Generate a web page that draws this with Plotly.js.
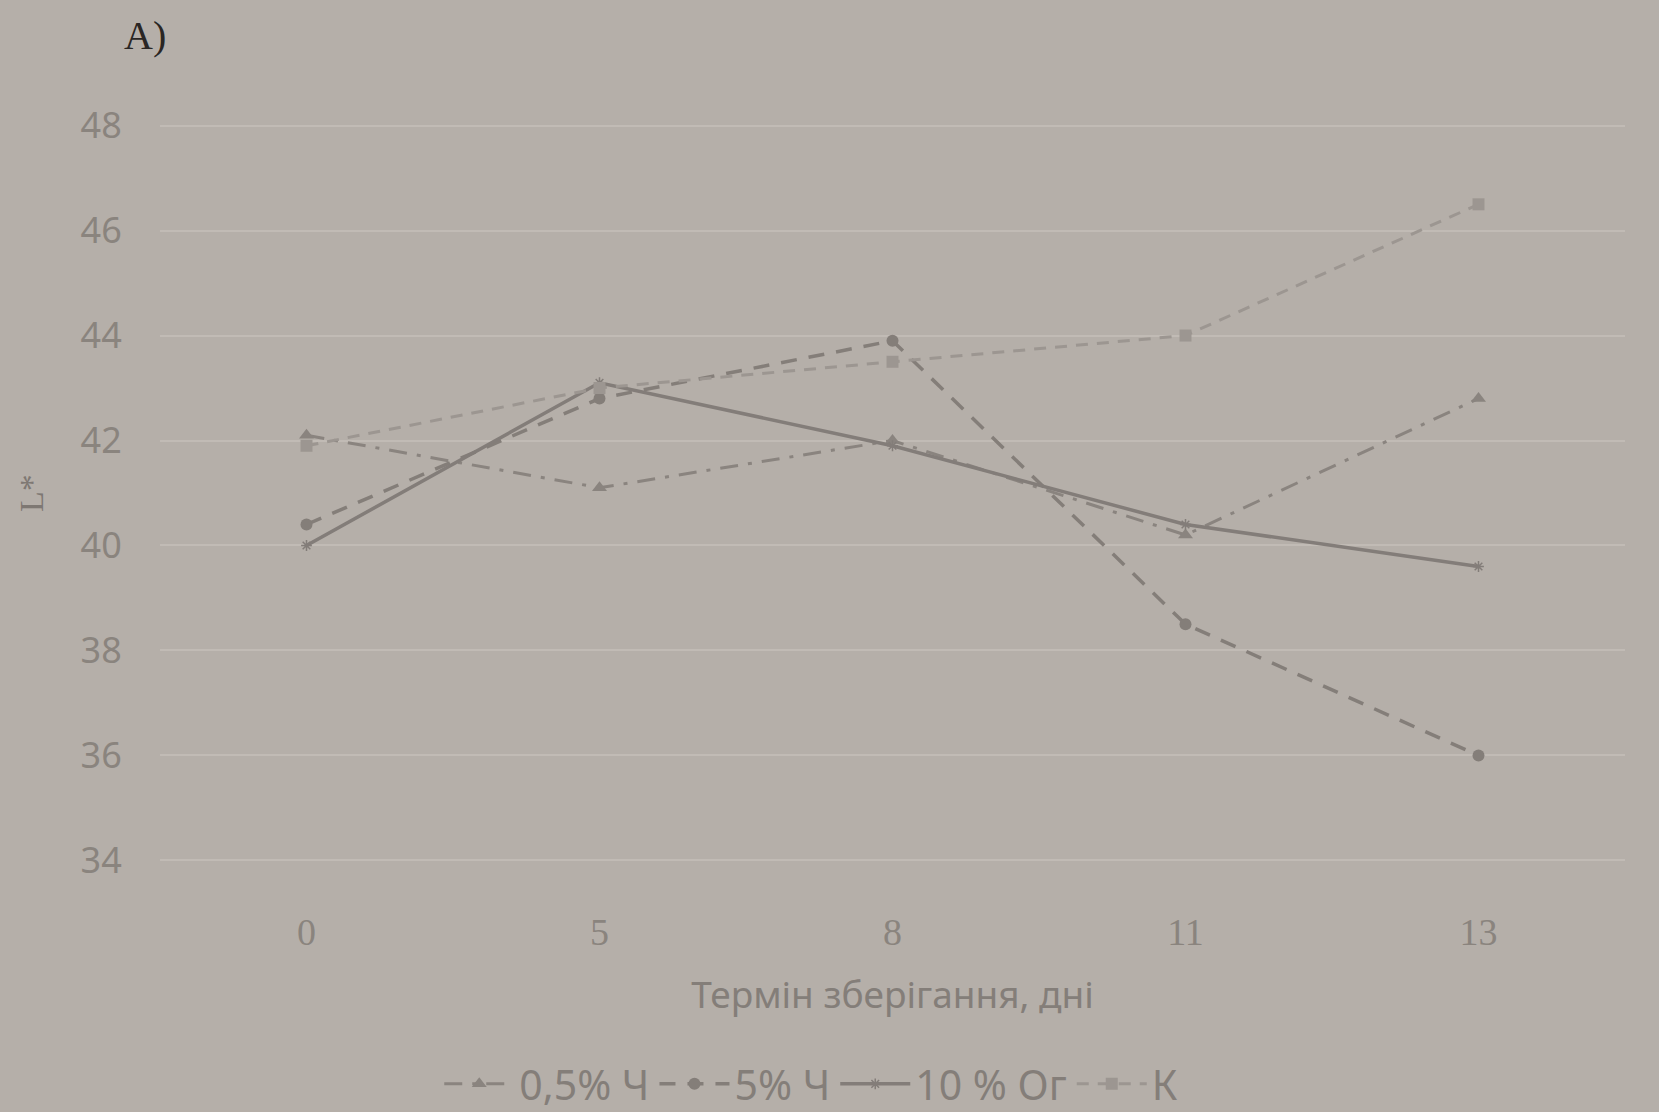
<!DOCTYPE html>
<html>
<head>
<meta charset="utf-8">
<script src="https://cdn.plot.ly/plotly-3.0.1.min.js"></script>
<style>
  html, body { margin: 0; padding: 0; background: #b5afa9; }
  #chart { width: 1659px; height: 1112px; }
</style>
</head>
<body>
<div id="chart"></div>
<script>
// Storage time, days (category axis)
const days = ["0", "5", "8", "11", "13"];

// L* values
const ch05 = [42.1, 41.1, 42.0, 40.2, 42.8];   // 0,5% Ч
const ch5  = [40.4, 42.8, 43.9, 38.5, 36.0];   // 5% Ч
const og10 = [40.0, 43.1, 41.9, 40.4, 39.6];   // 10 % Ог
const ctrl = [41.9, 43.0, 43.5, 44.0, 46.5];   // К

const seriesNames = ["0,5% Ч", "5% Ч", "10 % Ог", "К"];
const yTicks = [34, 36, 38, 40, 42, 44, 46, 48];

const bg = "#b5afa9";
const textCol = "#858079";

const traces = [
  {
    x: days, y: ch05, name: seriesNames[0], type: "scatter", mode: "lines+markers",
    line: { color: "#8a847f", width: 3, dash: "18px,10px,4px,10px" },
    marker: { symbol: "triangle-up", size: 13, color: "#8a847f" }
  },
  {
    x: days, y: ch5, name: seriesNames[1], type: "scatter", mode: "lines+markers",
    line: { color: "#847e79", width: 3.5, dash: "16px,12px" },
    marker: { symbol: "circle", size: 12, color: "#847e79" }
  },
  {
    x: days, y: og10, name: seriesNames[2], type: "scatter", mode: "lines+markers",
    line: { color: "#837d79", width: 3.5 },
    marker: { symbol: "asterisk-open", size: 9, color: "#837d79", line: { width: 1.5, color: "#837d79" } }
  },
  {
    x: days, y: ctrl, name: seriesNames[3], type: "scatter", mode: "lines+markers",
    line: { color: "#9c9691", width: 3, dash: "12px,9px" },
    marker: { symbol: "square", size: 12, color: "#9c9691" }
  }
];

const layout = {
  width: 1659, height: 1112,
  paper_bgcolor: bg, plot_bgcolor: bg,
  margin: { l: 160, r: 34, t: 124, b: 250 },
  showlegend: true,
  font: { family: "Noto Sans, Liberation Sans, sans-serif", color: textCol },
  xaxis: {
    type: "category",
    categoryorder: "array", categoryarray: days,
    range: [-0.5, 4.5],
    showgrid: false, zeroline: false, showline: false,
    ticks: "outside", ticklen: 36, tickcolor: "rgba(0,0,0,0)",
    tickfont: { family: "Liberation Serif, DejaVu Serif, serif", size: 38, color: "#8a847e" },
    title: { text: "Термін зберігання, дні", standoff: 30,
             font: { family: "Noto Sans, sans-serif", size: 37, color: "#847e79" } },
    automargin: false
  },
  yaxis: {
    range: [33.97, 48.03],
    tickvals: yTicks,
    ticktext: yTicks.map(String),
    showgrid: true, gridcolor: "#c1bbb5", gridwidth: 2,
    zeroline: false, showline: false,
    ticks: "outside", ticklen: 30, tickcolor: "rgba(0,0,0,0)",
    tickfont: { family: "Noto Sans, sans-serif", size: 36, color: "#8a847e" },
    title: { text: "L*", standoff: 26,
             font: { family: "Liberation Serif, serif", size: 34, color: "#7e7873" } },
    automargin: false
  },
  legend: {
    orientation: "h",
    xref: "container", yref: "container",
    x: 0.489, xanchor: "center",
    y: 0.025, yanchor: "middle",
    font: { family: "Noto Sans, sans-serif", size: 41, color: "#847e79" },
    bgcolor: "rgba(0,0,0,0)",
    itemwidth: 70,
    tracegroupgap: 0
  },
  annotations: [
    {
      text: "A)", xref: "paper", yref: "paper",
      x: -0.01, y: 1.12, xanchor: "center", yanchor: "middle",
      showarrow: false,
      font: { family: "Liberation Serif, DejaVu Serif, serif", size: 40, color: "#2a2624" }
    }
  ]
};

Plotly.newPlot("chart", traces, layout, { displayModeBar: false, staticPlot: true });
</script>
</body>
</html>
